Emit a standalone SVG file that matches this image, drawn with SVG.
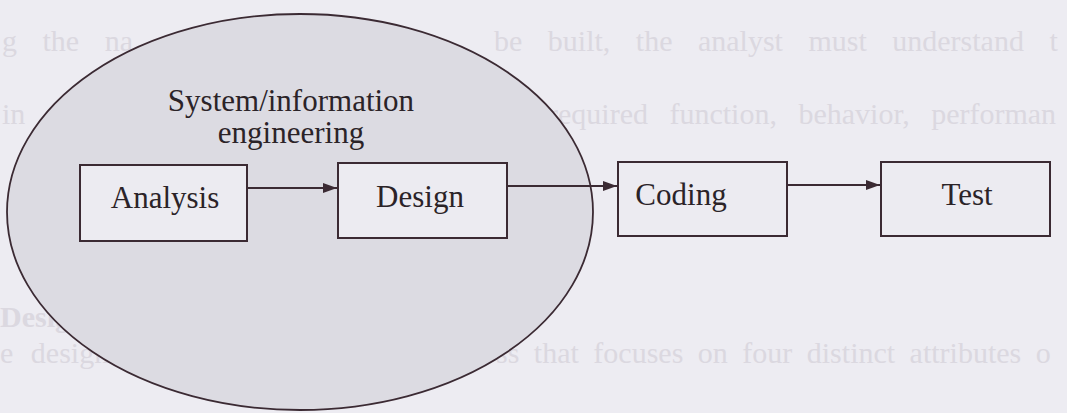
<svg xmlns="http://www.w3.org/2000/svg" width="1067" height="413" viewBox="0 0 1067 413">
  <style>
    .ghost { font-family: "Liberation Serif", "Times New Roman", serif; font-size: 30px; fill: #dbd8e0; }
    .lbl { font-family: "Liberation Serif", "Times New Roman", serif; font-size: 31px; fill: #2b2328; }
    .box { fill: #ecebf1; stroke: #3b2a33; stroke-width: 2; }
    .conn { stroke: #3b2a33; stroke-width: 2.2; fill: none; }
  </style>
  <defs>
    <marker id="arrow" viewBox="0 0 14 10" refX="14" refY="5" markerWidth="14" markerHeight="10" markerUnits="userSpaceOnUse" orient="auto">
      <path d="M0,0 L14,5 L0,10 Z" fill="#3b2a33"/>
    </marker>
  </defs>

  <rect x="0" y="0" width="1067" height="413" fill="#edecf2"/>

  <g id="background-text">
    <text class="ghost" x="2" y="51" word-spacing="18">g the na</text>
    <text class="ghost" x="494" y="51" word-spacing="18">be built, the analyst must understand t</text>
    <text class="ghost" x="2" y="124">in</text>
    <text class="ghost" x="548" y="124" word-spacing="14">required function, behavior, performan</text>
    <text class="ghost" x="0" y="327" font-weight="bold">Design</text>
    <text class="ghost" x="0" y="363" word-spacing="10">e design</text>
    <text class="ghost" x="496" y="363" word-spacing="7">ss that focuses on four distinct attributes o</text>
  </g>

  <g id="system-information-engineering">
    <ellipse cx="300" cy="212" rx="293" ry="198" fill="#dcdbe2" stroke="#3b2a33" stroke-width="1.8"/>
    <text class="lbl" x="291" y="111" text-anchor="middle">System/information</text>
    <text class="lbl" x="291" y="143" text-anchor="middle">engineering</text>
  </g>

  <g id="analysis">
    <rect class="box" x="80" y="165" width="167" height="76"/>
    <text class="lbl" x="165" y="208" text-anchor="middle">Analysis</text>
  </g>

  <g id="design">
    <rect class="box" x="338" y="163" width="169" height="75"/>
    <text class="lbl" x="420" y="207" text-anchor="middle">Design</text>
  </g>

  <g id="coding">
    <rect class="box" x="618" y="162" width="169" height="74"/>
    <text class="lbl" x="681" y="205" text-anchor="middle">Coding</text>
  </g>

  <g id="test">
    <rect class="box" x="881" y="162" width="169" height="74"/>
    <text class="lbl" x="967" y="205" text-anchor="middle">Test</text>
  </g>

  <g id="connectors">
    <line class="conn" x1="247" y1="188" x2="337" y2="188" marker-end="url(#arrow)"/>
    <line class="conn" x1="507" y1="186" x2="617" y2="186" marker-end="url(#arrow)"/>
    <line class="conn" x1="787" y1="185" x2="880" y2="185" marker-end="url(#arrow)"/>
  </g>
</svg>
